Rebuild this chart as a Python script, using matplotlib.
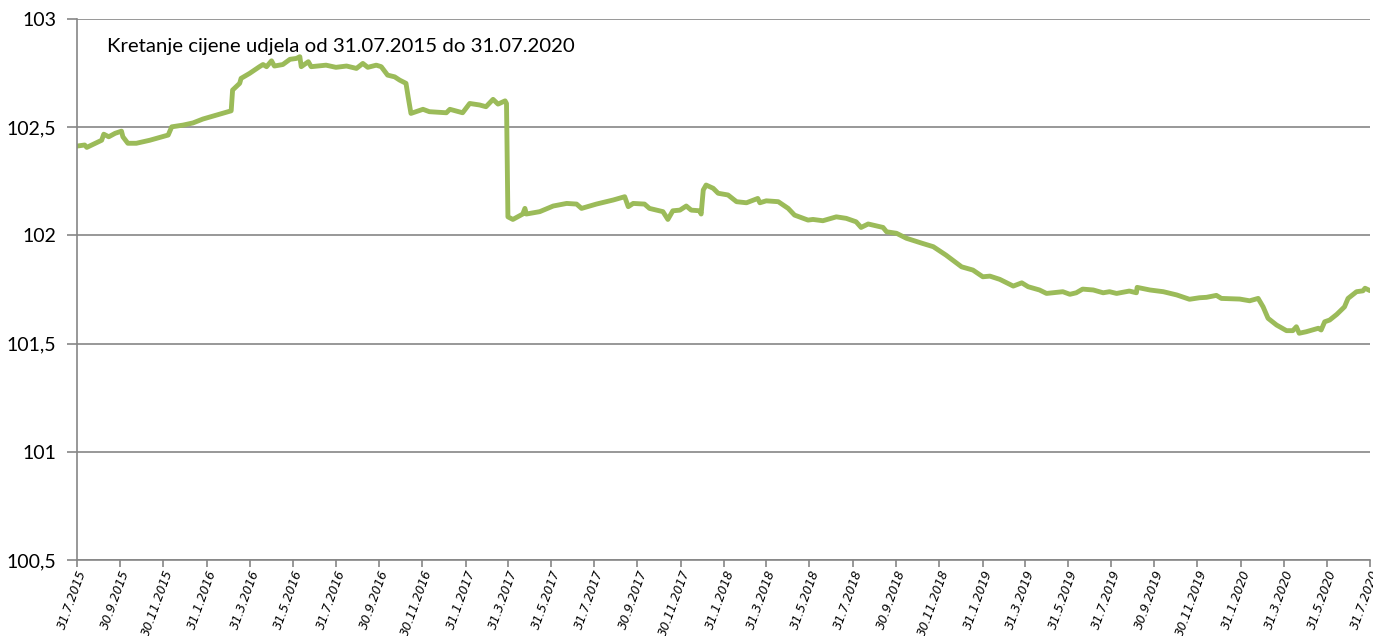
import matplotlib
matplotlib.use("Agg")
import matplotlib.pyplot as plt
import matplotlib.ticker as mticker
import pandas as pd

# cijena udjela, ocitano s grafa
dates = ["2015-07-31", "2015-08-11", "2015-08-14", "2015-09-04", "2015-09-07", "2015-09-14",
         "2015-09-23", "2015-10-02", "2015-10-04", "2015-10-11", "2015-10-23", "2015-11-11",
         "2015-11-25", "2015-12-07", "2015-12-12", "2015-12-28", "2016-01-11", "2016-01-25",
         "2016-02-13", "2016-03-05", "2016-03-07", "2016-03-17", "2016-03-19", "2016-03-31",
         "2016-04-14", "2016-04-19", "2016-04-24", "2016-05-01", "2016-05-05", "2016-05-17",
         "2016-05-27", "2016-06-05", "2016-06-10", "2016-06-12", "2016-06-22", "2016-06-26",
         "2016-07-17", "2016-07-31", "2016-08-15", "2016-08-29", "2016-09-07", "2016-09-14",
         "2016-09-26", "2016-10-03", "2016-10-12", "2016-10-22", "2016-10-29", "2016-11-07",
         "2016-11-10", "2016-11-14", "2016-12-01", "2016-12-10", "2017-01-03", "2017-01-08",
         "2017-01-26", "2017-02-05", "2017-02-19", "2017-02-28", "2017-03-10", "2017-03-17",
         "2017-03-27", "2017-03-29", "2017-03-31", "2017-04-07", "2017-04-21", "2017-04-24",
         "2017-04-26", "2017-05-15", "2017-06-03", "2017-06-22", "2017-07-06", "2017-07-13",
         "2017-08-03", "2017-08-27", "2017-09-12", "2017-09-17", "2017-09-24", "2017-10-10",
         "2017-10-17", "2017-11-05", "2017-11-12", "2017-11-19", "2017-11-29", "2017-12-08",
         "2017-12-15", "2017-12-27", "2017-12-29", "2018-01-01", "2018-01-05", "2018-01-15",
         "2018-01-22", "2018-02-05", "2018-02-17", "2018-03-03", "2018-03-19", "2018-03-22",
         "2018-03-31", "2018-04-17", "2018-05-01", "2018-05-10", "2018-05-29", "2018-06-05",
         "2018-06-19", "2018-07-08", "2018-07-22", "2018-08-05", "2018-08-12", "2018-08-22",
         "2018-09-12", "2018-09-17", "2018-10-01", "2018-10-15", "2018-11-07", "2018-11-22",
         "2018-12-10", "2019-01-01", "2019-01-17", "2019-01-31", "2019-02-10", "2019-02-24",
         "2019-03-15", "2019-03-27", "2019-04-05", "2019-04-21", "2019-05-01", "2019-05-24",
         "2019-06-03", "2019-06-12", "2019-06-21", "2019-07-06", "2019-07-20", "2019-07-29",
         "2019-08-08", "2019-08-26", "2019-09-05", "2019-09-06", "2019-09-24", "2019-10-13",
         "2019-11-01", "2019-11-19", "2019-12-03", "2019-12-13", "2019-12-27", "2020-01-03",
         "2020-01-29", "2020-02-12", "2020-02-24", "2020-03-02", "2020-03-09", "2020-03-21",
         "2020-04-04", "2020-04-13", "2020-04-18", "2020-04-22", "2020-05-02", "2020-05-19",
         "2020-05-23", "2020-05-28", "2020-06-04", "2020-06-14", "2020-06-25", "2020-06-30",
         "2020-07-12", "2020-07-21", "2020-07-24", "2020-07-31"]
prices = [102.413, 102.418, 102.407, 102.44, 102.468, 102.456,
          102.472, 102.482, 102.456, 102.426, 102.426, 102.44,
          102.453, 102.464, 102.502, 102.51, 102.52, 102.538,
          102.556, 102.576, 102.672, 102.703, 102.726, 102.749,
          102.78, 102.79, 102.78, 102.807, 102.783, 102.79,
          102.814, 102.818, 102.826, 102.78, 102.803, 102.78,
          102.787, 102.777, 102.783, 102.772, 102.795, 102.777,
          102.787, 102.78, 102.741, 102.733, 102.718, 102.703,
          102.641, 102.564, 102.583, 102.572, 102.567, 102.583,
          102.567, 102.61, 102.603, 102.595, 102.629, 102.607,
          102.622, 102.61, 102.086, 102.074, 102.099, 102.125,
          102.099, 102.11, 102.136, 102.148, 102.145, 102.125,
          102.145, 102.164, 102.179, 102.133, 102.148, 102.145,
          102.125, 102.11, 102.074, 102.114, 102.117, 102.136,
          102.117, 102.114, 102.099, 102.21, 102.233, 102.218,
          102.195, 102.187, 102.156, 102.151, 102.171, 102.151,
          102.16, 102.156, 102.125, 102.094, 102.071, 102.074,
          102.068, 102.086, 102.079, 102.063, 102.037, 102.053,
          102.037, 102.017, 102.01, 101.987, 101.963, 101.948,
          101.909, 101.855, 101.84, 101.809, 101.812, 101.797,
          101.766, 101.781, 101.763, 101.748, 101.732, 101.74,
          101.728, 101.735, 101.752, 101.748, 101.735, 101.74,
          101.732, 101.743, 101.735, 101.76, 101.748, 101.74,
          101.725, 101.705, 101.712, 101.714, 101.723, 101.709,
          101.706, 101.698, 101.709, 101.67, 101.617, 101.586,
          101.56, 101.56, 101.578, 101.548, 101.555, 101.571,
          101.563, 101.601, 101.609, 101.635, 101.67, 101.709,
          101.74, 101.744, 101.756, 101.745]

tick_dates = pd.date_range("2015-07-31", "2020-07-31", freq="2ME")
tick_labels = [f"{d.day}.{d.month}.{d.year}" for d in tick_dates]
y_ticks = [100.5, 101, 101.5, 102, 102.5, 103]
title = "Kretanje cijene udjela od 31.07.2015 do 31.07.2020"

plt.rcParams["font.family"] = ["Lato", "DejaVu Sans"]

fig = plt.figure(figsize=(13.73, 6.36), dpi=100)
ax = fig.add_axes([0.056, 0.1195, 0.9418, 0.8505])

ax.plot(pd.to_datetime(dates), prices, color="#9BBB59", lw=3.5,
        solid_joinstyle="round", solid_capstyle="round")

ax.set_xlim(tick_dates[0], tick_dates[-1])
ax.set_ylim(100.5, 103)
ax.set_yticks(y_ticks)
ax.yaxis.set_major_formatter(mticker.FuncFormatter(
    lambda v, p: (f"{v:g}").replace(".", ",")))
ax.set_xticks(tick_dates)
ax.set_xticklabels(tick_labels, rotation=70, ha="right", rotation_mode="anchor",
                   fontsize=8.8, family="DejaVu Sans", fontstyle="italic")
ax.tick_params(axis="y", labelsize=14, length=7, width=1.2, color="#868686", pad=8)
ax.tick_params(axis="x", length=5, width=1.2, color="#868686", pad=1)

ax.grid(axis="y", color="#868686", lw=1.2)
ax.set_axisbelow(True)
for s in ["top", "right"]:
    ax.spines[s].set_visible(False)
for s in ["left", "bottom"]:
    ax.spines[s].set_color("#868686")
    ax.spines[s].set_linewidth(1.2)

ax.text(0.023, 0.95, title, transform=ax.transAxes, fontsize=14.7, va="center")

plt.savefig("out.png", dpi=100)
